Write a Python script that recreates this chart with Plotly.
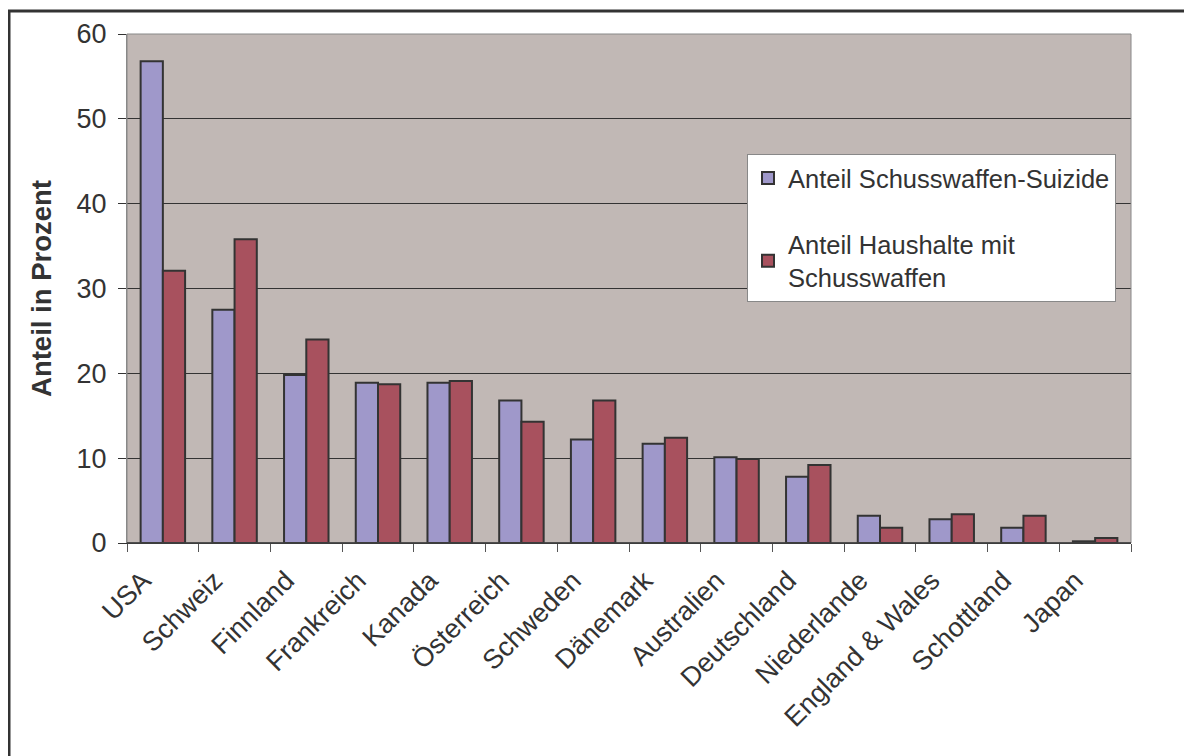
import plotly.graph_objects as go

countries = ["USA", "Schweiz", "Finnland", "Frankreich", "Kanada", "Österreich", "Schweden",
             "Dänemark", "Australien", "Deutschland", "Niederlande", "England & Wales",
             "Schottland", "Japan"]
suizide = [56.8, 27.5, 19.8, 18.9, 18.9, 16.8, 12.2, 11.7, 10.1, 7.8, 3.2, 2.8, 1.8, 0.2]
haushalte = [32.1, 35.8, 24.0, 18.7, 19.1, 14.3, 16.8, 12.4, 9.9, 9.2, 1.8, 3.4, 3.2, 0.6]

name1 = "Anteil Schusswaffen-Suizide"
name2 = "Anteil Haushalte mit<br>Schusswaffen"

FONT = "Liberation Sans, Arial, sans-serif"
TXT = "#333333"

fig = go.Figure()
fig.add_trace(go.Bar(x=countries, y=suizide, name=name1, legendgroup="a",
                     marker=dict(color="#9f98ca", line=dict(color="#333333", width=2))))
fig.add_trace(go.Bar(x=countries, y=haushalte, name=name2, legendgroup="b",
                     marker=dict(color="#a8515e", line=dict(color="#333333", width=2))))

OFF = 8  # body margin of the html page
W, H = 1192 - OFF, 756 - OFF
L, T = 127 - OFF, 34 - OFF
R = W - (1131 - OFF)
B = H - (543 - OFF)
pw, ph = W - L - R, H - T - B


def px(x):
    return (x - OFF - L) / pw


def py(y):
    return (543 - y) / ph


fig.update_layout(
    width=W, height=H,
    margin=dict(l=L, r=R, t=T, b=B, pad=0),
    paper_bgcolor="white",
    plot_bgcolor="#c1b8b5",
    barmode="group", bargap=0.38, bargroupgap=0,
    font=dict(family=FONT, color=TXT, size=26),
    showlegend=True,
    legend=dict(x=px(747), y=py(154), xanchor="left", yanchor="top",
                bgcolor="white", bordercolor="#888888", borderwidth=1,
                font=dict(size=25.5, color=TXT), tracegroupgap=30,
                itemsizing="constant"),
    xaxis=dict(type="category", tickson="boundaries", ticks="outside", ticklen=8,
               tickcolor="#555555", tickangle=-45, showgrid=False,
               showline=True, linecolor="#333333", linewidth=1,
               ticklabelshift=-20, ticklabelstandoff=10,
               tickfont=dict(size=27, color=TXT)),
    yaxis=dict(range=[0, 60], dtick=10, ticks="outside", ticklen=8, tickcolor="#333333",
               showgrid=True, gridcolor="#333333", gridwidth=1, zeroline=False,
               showline=True, linecolor="#888888", linewidth=1,
               ticklabelstandoff=6,
               tickfont=dict(size=27, color=TXT),
               title=dict(text="<b>Anteil in Prozent</b>", font=dict(size=27.5, color=TXT),
                          standoff=16)),
    shapes=[
        dict(type="rect", xref="paper", yref="paper", x0=0, x1=1, y0=0, y1=1,
             line=dict(color="#888888", width=1), layer="above"),
        dict(type="line", xref="paper", yref="paper", x0=0, x1=1, y0=0, y1=0,
             line=dict(color="#333333", width=1.5), layer="above"),
        dict(type="rect", xref="paper", yref="paper",
             x0=px(9), x1=px(1215),
             y0=py(790), y1=py(11),
             line=dict(color="#333333", width=3), layer="below"),
    ],
)

fig.write_html("out.html")
